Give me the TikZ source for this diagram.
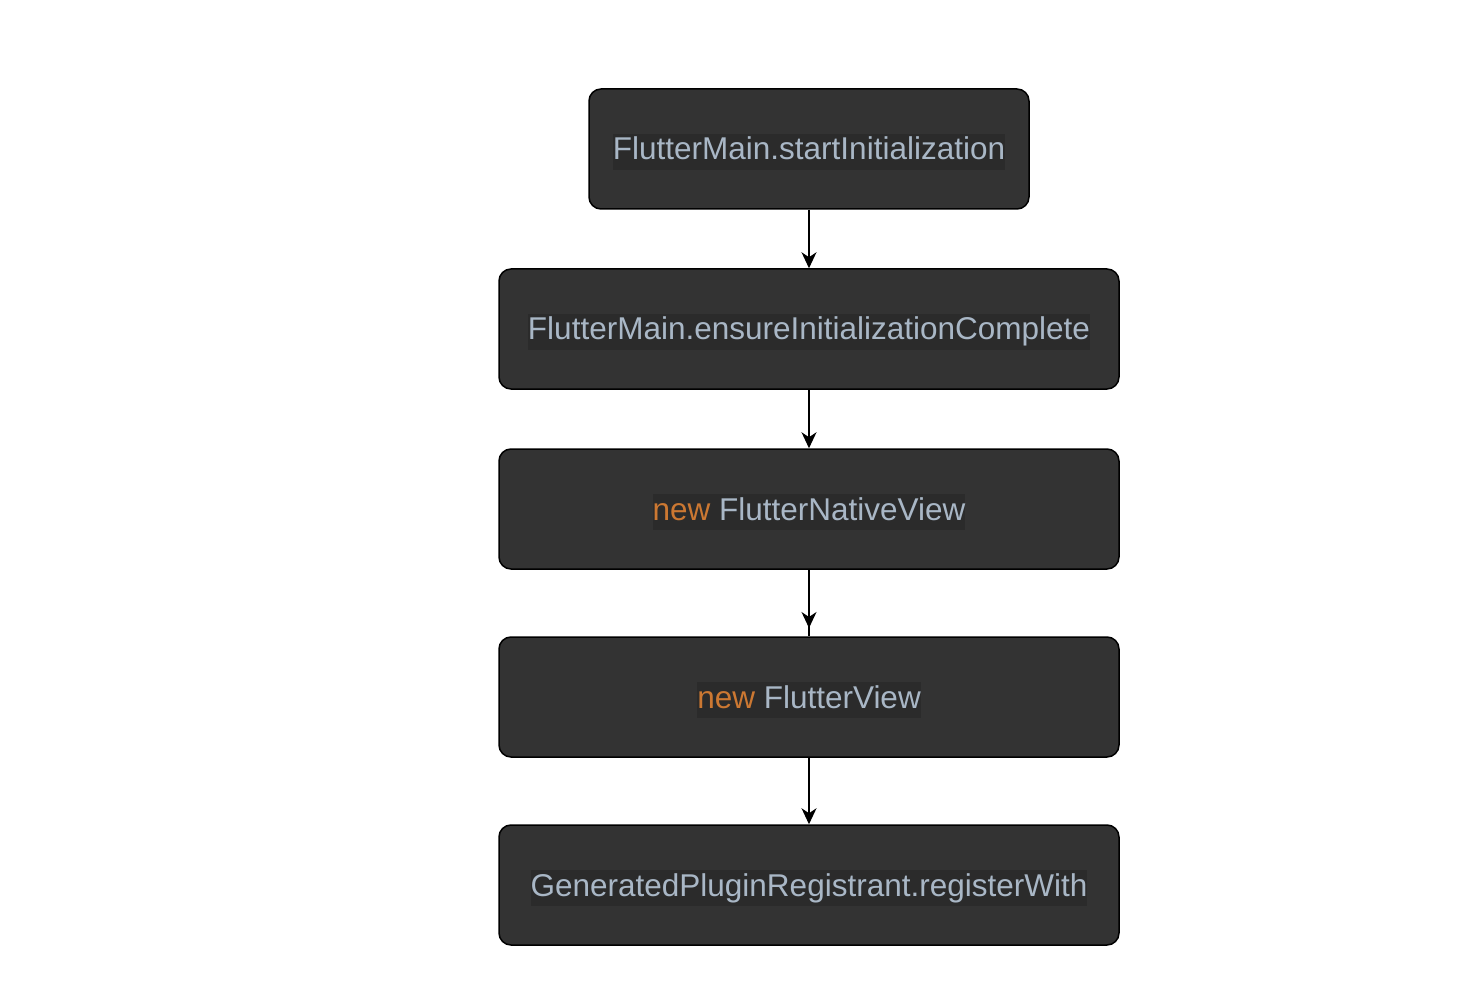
\documentclass[tikz,border=0pt]{standalone}
\usepackage{fontspec}
\setmainfont{Liberation Sans}
\usetikzlibrary{arrows.meta}
\definecolor{boxfill}{HTML}{333333}
\definecolor{codebg}{HTML}{2B2B2B}
\definecolor{codefg}{HTML}{A9B7C6}
\definecolor{kw}{HTML}{CC7832}
\begin{document}
\begin{tikzpicture}[x=1pt,y=-1pt,
  stepbox/.style={draw=black,line width=1.5pt,fill=boxfill,rounded corners=12pt,
    minimum height=120pt,inner sep=0pt},
  code/.style={fill=codebg,text=codefg,inner xsep=0pt,inner ysep=3pt,
    text height=23pt,text depth=7pt,yshift=-3pt,
    font=\fontsize{31.5}{36}\selectfont},
  flow/.style={line width=1.5pt,-{Stealth[length=16pt,width=15pt,inset=5pt]}}]
\useasboundingbox (0,0) rectangle (1470,1000);
\node[stepbox,minimum width=440pt] (s1) at (809,149) {};
\node[stepbox,minimum width=620pt] (s2) at (809,329) {};
\node[stepbox,minimum width=620pt] (s3) at (809,509) {};
\node[stepbox,minimum width=620pt] (s4) at (809,697) {};
\node[stepbox,minimum width=620pt] (s5) at (809,885) {};
\node[code] (t1) at (s1) {FlutterMain.startInitialization};
\node[code] (t2) at (s2) {FlutterMain.ensureInitializationComplete};
\node[code] (t3) at (s3) {\textcolor{kw}{new} FlutterNativeView};
\node[code] (t4) at (s4) {\textcolor{kw}{new} FlutterView};
\node[code] (t5) at (s5) {GeneratedPluginRegistrant.registerWith};
\coordinate (c4) at (809,628);
\draw[flow] (s1.south) -- (s2.north);
\draw[flow] (s2.south) -- (s3.north);
\draw[line width=1.5pt] (s3.south) -- (s4.north);
\draw[flow] (s3.south) -- (c4);
\draw[flow] (s4.south) -- (s5.north);
\end{tikzpicture}
\end{document}
